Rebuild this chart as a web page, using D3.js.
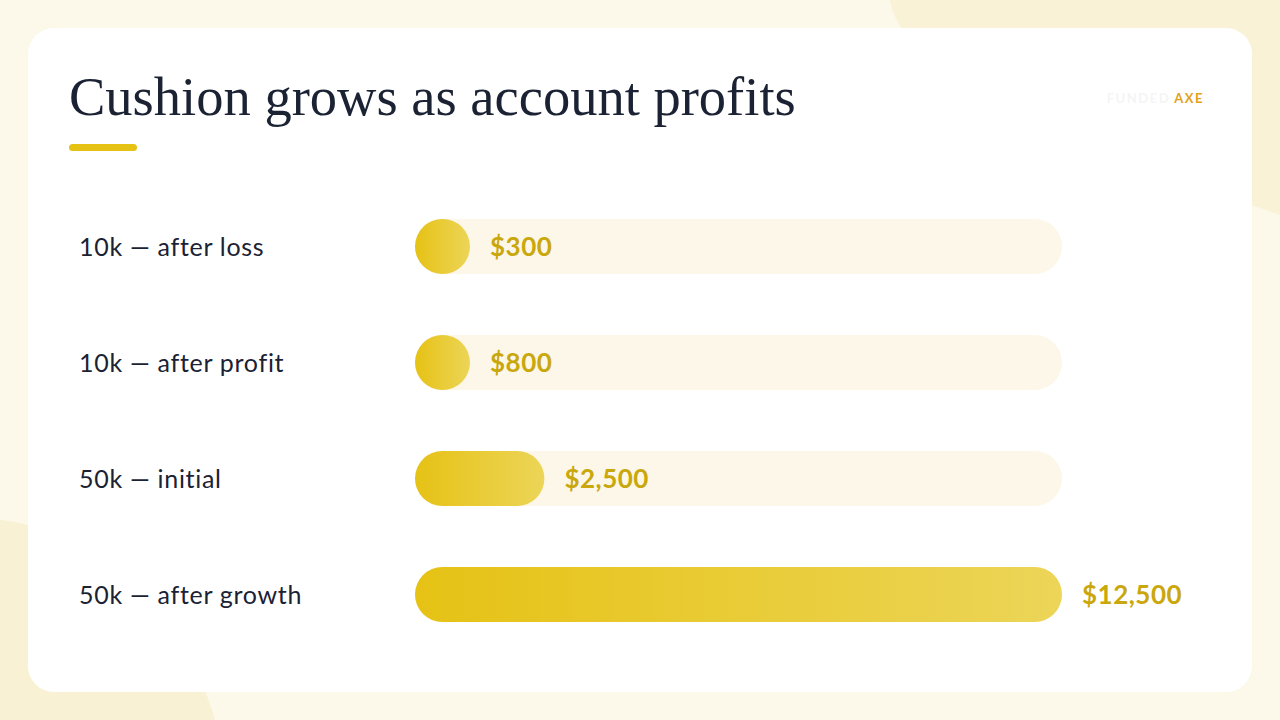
<!DOCTYPE html>
<html>
<head>
<meta charset="utf-8">
<script src="https://cdn.jsdelivr.net/npm/d3@7"></script>
<style>
  html, body { margin: 0; padding: 0; background: #fcf8ea; }
  svg { display: block; }
</style>
</head>
<body>
<div id="chart"></div>
<script>
// chart data
var categories = ["10k — after loss", "10k — after profit", "50k — initial", "50k — after growth"];
var cushionValues = [300, 800, 2500, 12500];
var valueLabels = ["$300", "$800", "$2,500", "$12,500"];
var maxValue = 12500;

var svgWidth = 1280;
var svgHeight = 720;

var svg = d3.select("#chart")
    .append("svg")
    .attr("width", svgWidth)
    .attr("height", svgHeight);

var defs = svg.append("defs");

// bar gradient, darker gold on the left
var grad = defs.append("linearGradient")
    .attr("id", "barGrad")
    .attr("x1", "0%").attr("x2", "100%")
    .attr("y1", "0%").attr("y2", "0%");
grad.append("stop").attr("offset", "0%").attr("stop-color", "#e6c215");
grad.append("stop").attr("offset", "100%").attr("stop-color", "#ecd558");

// soft background blobs
svg.append("rect").attr("width", svgWidth).attr("height", svgHeight).attr("fill", "#fcf8ea");
svg.append("path")
    .attr("d", "M890,0 C900,60 1000,120 1280,215 L1280,0 Z")
    .attr("fill", "#faf2d6");
svg.append("path")
    .attr("d", "M0,520 C90,530 180,600 215,720 L0,720 Z")
    .attr("fill", "#f9f1d4");

// white card
svg.append("rect")
    .attr("x", 28).attr("y", 28)
    .attr("width", 1224).attr("height", 664)
    .attr("rx", 26)
    .attr("fill", "#ffffff");

// title
var title = svg.append("text")
    .attr("x", 69).attr("y", 115)
    .attr("font-family", "Liberation Serif, DejaVu Serif, serif")
    .attr("font-size", 52)
    .attr("fill", "#1b2233")
    .text("Cushion grows as account profits");
// fit the title to the reference width
var tw = title.node().getComputedTextLength();
title.attr("font-size", 52 * 727 / tw);

svg.append("rect")
    .attr("x", 69).attr("y", 144)
    .attr("width", 68).attr("height", 7)
    .attr("rx", 3.5)
    .attr("fill", "#e6c215");

// logo
var logo = svg.append("text")
    .attr("x", 1204).attr("y", 103)
    .attr("text-anchor", "end")
    .attr("font-family", "Lato, sans-serif")
    .attr("font-weight", 700)
    .attr("font-size", 13)
    .attr("letter-spacing", 1.5);
logo.append("tspan").attr("fill", "#f5f5f5").text("FUNDED ");
logo.append("tspan").attr("fill", "#e4a21c").text("AXE");

// scales
var barLeft = 415;
var xScale = d3.scaleLinear()
    .domain([0, maxValue])
    .range([0, 647]);

var yScale = d3.scaleBand()
    .domain(categories)
    .range([219, 622])
    .paddingInner((116 - 55) / 116)
    .paddingOuter(0);

var bh = yScale.bandwidth();

var rows = svg.selectAll(".row")
    .data(categories)
    .enter()
    .append("g")
    .attr("class", "row")
    .attr("transform", d => `translate(0, ${yScale(d)})`);

// track
rows.append("rect")
    .attr("x", barLeft)
    .attr("width", xScale(maxValue))
    .attr("height", bh)
    .attr("rx", bh / 2)
    .attr("fill", "#fcf7e8");

// value bar (never narrower than a circle)
var barW = (d, i) => Math.max(xScale(cushionValues[i]), bh);
rows.append("rect")
    .attr("x", barLeft)
    .attr("width", barW)
    .attr("height", bh)
    .attr("rx", bh / 2)
    .attr("fill", "url(#barGrad)");

// category labels
rows.append("text")
    .attr("x", 79)
    .attr("y", bh / 2)
    .attr("dy", "0.36em")
    .attr("font-family", "Lato, sans-serif")
    .attr("font-size", 25)
    .attr("letter-spacing", 0.7)
    .attr("fill", "#1b2233")
    .text(d => d);

// value labels
rows.append("text")
    .attr("x", (d, i) => barLeft + barW(d, i) + 20)
    .attr("y", bh / 2)
    .attr("dy", "0.36em")
    .attr("font-family", "Lato, sans-serif")
    .attr("font-weight", 700)
    .attr("font-size", 26)
    .attr("letter-spacing", 0.5)
    .attr("fill", "#c9a70d")
    .text((d, i) => valueLabels[i]);
</script>
</body>
</html>
